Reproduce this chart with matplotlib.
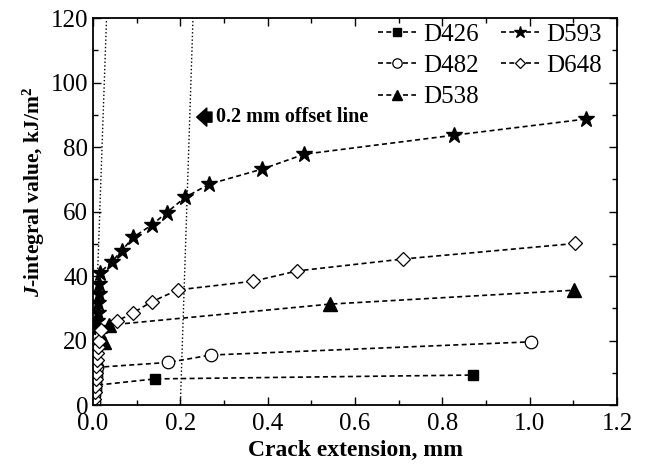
import numpy as np
import matplotlib.pyplot as plt
from matplotlib.ticker import MultipleLocator, FormatStrFormatter

plt.rcParams['font.family'] = ['Liberation Serif', 'DejaVu Serif']
plt.rcParams['mathtext.fontset'] = 'custom'
plt.rcParams['mathtext.it'] = 'Liberation Serif:italic:bold'
plt.rcParams['mathtext.rm'] = 'Liberation Serif:bold'
plt.rcParams['mathtext.bf'] = 'Liberation Serif:bold'

# crack extension (mm) and J-integral (kJ/m2)
x_d426 = [0.012, 0.142, 0.871]
j_d426 = [6.2, 8.1, 9.3]

x_d482 = [0.002, 0.003, 0.004, 0.005, 0.006, 0.008, 0.010, 0.171, 0.270, 1.003]
j_d482 = [1.0, 3.0, 5.0, 7.0, 9.0, 10.5, 11.7, 13.2, 15.5, 19.6]

x_d538 = [0.026, 0.037, 0.543, 1.101]
j_d538 = [19.6, 24.8, 31.3, 35.6]

x_d593 = [0.010, 0.010, 0.011, 0.012, 0.013, 0.014, 0.015, 0.043, 0.066, 0.092,
          0.134, 0.169, 0.211, 0.266, 0.388, 0.484, 0.827, 1.129]
j_d593 = [24.0, 26.0, 28.5, 31.5, 34.5, 37.5, 41.0, 44.4, 47.9, 52.0,
          55.8, 59.7, 64.4, 68.5, 73.2, 77.8, 83.7, 88.7]

x_d648 = [0.003, 0.004, 0.005, 0.006, 0.007, 0.008, 0.009, 0.010, 0.012, 0.014,
          0.018, 0.056, 0.092, 0.134, 0.194, 0.367, 0.468, 0.711, 1.104]
j_d648 = [2.0, 4.0, 6.0, 8.0, 10.0, 12.0, 14.0, 16.0, 18.0, 20.0,
          23.3, 26.1, 28.6, 32.0, 35.7, 38.4, 41.6, 45.3, 50.1]

# blunting line and 0.2 mm offset line
blunt_x = [0.0, 0.031]
offset_x = [0.2, 0.229]
line_j = [0, 120]

fig = plt.figure(figsize=(6.49, 4.65), dpi=100)
ax = fig.add_axes([0.1433, 0.129, 0.8074, 0.832])

ax.plot(blunt_x, line_j, color='k', ls=':', lw=1.0)
ax.plot(offset_x, line_j, color='k', ls=':', lw=1.0)

dash = (0, (3, 2))
ax.plot(x_d426, j_d426, color='k', ls=dash, lw=1.2, marker='s', ms=7.5,
        mfc='k', markevery=[1, 2], label='D426')
ax.plot(x_d482, j_d482, color='k', ls=dash, lw=1.2, marker='o', ms=9,
        mfc='white', mew=0.9, label='D482')
ax.plot(x_d538, j_d538, color='k', ls=dash, lw=1.2, marker='^', ms=9.5,
        mfc='k', label='D538')
ax.plot(x_d593, j_d593, color='k', ls=dash, lw=1.2, marker='*', ms=12,
        mfc='k', label='D593')
ax.plot(x_d648, j_d648, color='k', ls=dash, lw=1.2, marker='D', ms=7,
        mfc='white', mew=0.9, label='D648')

ax.annotate('0.2 mm offset line', xy=(0.2375, 89.3), xytext=(0.282, 89.3),
            fontsize=14.5, fontweight='bold', va='center', ha='left',
            arrowprops=dict(arrowstyle='simple,head_length=0.5,head_width=0.9,tail_width=0.5',
                            fc='k', ec='k', shrinkA=1, shrinkB=0))

ax.set_xlim(0, 1.2)
ax.set_ylim(0, 120)
ax.xaxis.set_major_locator(MultipleLocator(0.2))
ax.xaxis.set_minor_locator(MultipleLocator(0.1))
ax.yaxis.set_major_locator(MultipleLocator(20))
ax.yaxis.set_minor_locator(MultipleLocator(10))
ax.xaxis.set_major_formatter(FormatStrFormatter('%.1f'))
ax.tick_params(which='both', direction='in', top=True, right=True, labelsize=18)
ax.tick_params(axis='x', which='major', pad=6)
ax.tick_params(which='major', length=6, width=1.0)
ax.tick_params(which='minor', length=3.5, width=1.0)
for s in ax.spines.values():
    s.set_linewidth(1.3)

ax.set_xlabel('Crack extension, mm', fontsize=17, fontweight='bold', labelpad=3)
ax.set_ylabel(r'$J$-integral value, kJ/m$^2$', fontsize=15.5, fontweight='bold')
ax.yaxis.set_label_coords(-0.088, 0.55)

ax.legend(ncol=2, loc='upper right', bbox_to_anchor=(1.0, 1.025), frameon=False,
          fontsize=18, handlelength=1.5, markerscale=0.75, columnspacing=0.9,
          handletextpad=0.3, labelspacing=0.35, borderaxespad=0.2)

fig.savefig('out.png', dpi=100)
